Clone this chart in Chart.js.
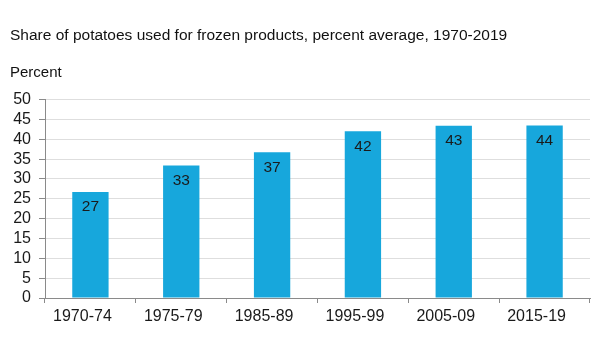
<!DOCTYPE html>
<html>
<head>
<meta charset="utf-8">
<script src="https://cdn.jsdelivr.net/npm/chart.js@4"></script>
<style>
html,body{margin:0;padding:0;background:#fff;}
#wrap{width:600px;height:356px;position:relative;}
</style>
</head>
<body>
<div id="wrap"><canvas id="c" width="600" height="356"></canvas></div>
<script>
const categories = ["1970-74", "1975-79", "1985-89", "1995-99", "2005-09", "2015-19"];
const shareFrozen = [26.7, 33.4, 36.7, 42.0, 43.4, 43.5];
const yTicks = [0, 5, 10, 15, 20, 25, 30, 35, 40, 45, 50];
const titleText = "Share of potatoes used for frozen products, percent average, 1970-2019";
const unitText = "Percent";

const FONT = "'Liberation Sans', Arial, Helvetica, sans-serif";

const valueLabels = {
  id: 'valueLabels',
  afterDatasetsDraw(chart) {
    const ctx = chart.ctx;
    const meta = chart.getDatasetMeta(0);
    ctx.save();
    ctx.font = "15.5px " + FONT;
    ctx.fillStyle = "#1a1a1a";
    ctx.textAlign = "center";
    ctx.textBaseline = "middle";
    meta.data.forEach((bar, i) => {
      const v = chart.data.datasets[0].data[i];
      ctx.fillText(String(Math.round(v)), bar.x, bar.y + 15);
    });
    ctx.restore();
  }
};

new Chart(document.getElementById('c'), {
  type: 'bar',
  data: {
    labels: categories,
    datasets: [{
      data: shareFrozen,
      backgroundColor: '#17a7dc',
      borderWidth: 0,
      categoryPercentage: 1.0,
      barPercentage: 0.4
    }]
  },
  options: {
    responsive: false,
    animation: false,
    devicePixelRatio: 1,
    layout: { padding: { left: 10, right: 10, top: 0, bottom: 10 } },
    plugins: {
      legend: { display: false },
      tooltip: { enabled: false },
      title: {
        display: true,
        text: titleText,
        align: 'start',
        color: '#111',
        font: { family: FONT, size: 15.5, weight: 'normal' },
        padding: { top: 26, bottom: 0 }
      },
      subtitle: {
        display: true,
        text: unitText,
        align: 'start',
        color: '#111',
        font: { family: FONT, size: 15, weight: 'normal' },
        padding: { top: 19, bottom: 18 }
      }
    },
    scales: {
      x: {
        offset: true,
        grid: {
          offset: true,
          drawOnChartArea: false,
          drawTicks: true,
          tickLength: 5,
          tickColor: '#8a8a8a'
        },
        border: { display: true, color: '#8a8a8a', width: 1 },
        ticks: {
          color: '#1a1a1a',
          font: { family: FONT, size: 16 },
          padding: 4,
          maxRotation: 0,
          labelOffset: -8
        },
        afterFit(scale) { scale.height = 48; }
      },
      y: {
        min: 0,
        max: 50,
        afterBuildTicks(scale) { scale.ticks = yTicks.map(v => ({ value: v })); },
        grid: {
          color: '#dedede',
          drawTicks: true,
          tickLength: 6,
          tickColor: '#8a8a8a'
        },
        border: { display: true, color: '#8a8a8a', width: 1 },
        ticks: {
          color: '#1a1a1a',
          font: { family: FONT, size: 16 },
          padding: 8,
          stepSize: 5,
          autoSkip: false
        },
        afterFit(scale) { scale.width = 35; }
      }
    }
  },
  plugins: [valueLabels]
});
</script>
</body>
</html>
